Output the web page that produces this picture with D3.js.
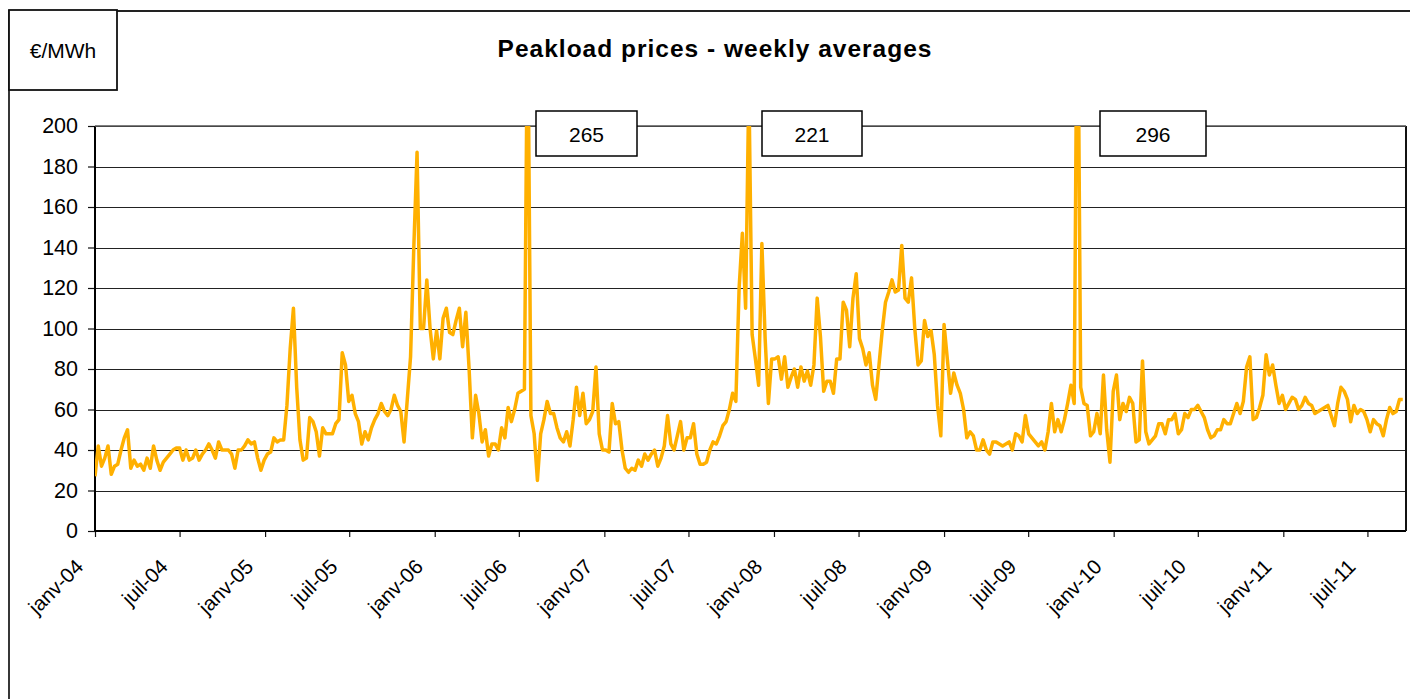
<!DOCTYPE html>
<html>
<head>
<meta charset="utf-8">
<script src="https://cdn.jsdelivr.net/npm/d3@7"></script>
<style>
body{margin:0;background:#fff;}
text{font-family:Arial,"Liberation Sans",sans-serif;fill:#000;}
</style>
</head>
<body>
<script>
// weekly peakload averages, first week of janv-04 onwards (EUR/MWh)
var firstWeek = new Date(2004, 0, 1);
var axisEnd = new Date(2011, 8, 22);
var prices = [
 27,42,32,36,42,28,32,33,40,46,
 50,31,35,32,33,30,36,31,42,35,
 30,34,36,38,40,41,41,35,40,35,
 36,40,35,38,40,43,40,36,44,40,
 40,40,38,31,40,40,42,45,43,44,
 36,30,35,38,39,46,44,45,45,62,
 90,110,71,45,35,36,56,54,49,37,
 51,48,48,48,53,55,88,82,64,67,
 58,54,43,49,45,51,55,58,63,59,
 57,60,67,62,59,44,65,86,140,187,
 100,100,124,100,85,99,85,105,110,98,
 97,104,110,91,108,80,46,67,58,44,
 50,37,43,43,40,51,46,61,54,60,
 68,69,70,265,57,48,25,48,55,64,
 58,58,51,46,44,49,42,55,71,57,
 68,53,55,59,81,48,40,40,39,63,
 53,54,40,31,29,31,30,35,32,38,
 35,38,40,32,36,42,57,43,40,47,
 54,40,46,46,53,38,33,33,34,40,
 44,43,47,52,54,60,68,64,120,147,
 110,221,97,85,72,142,95,63,85,85,
 86,75,86,71,76,80,71,81,74,79,
 72,82,115,96,69,74,74,68,85,85,
 113,109,91,115,127,95,90,82,88,72,
 65,82,99,113,118,124,118,119,141,115,
 113,125,100,82,84,104,96,99,87,62,
 47,102,85,68,78,72,68,60,46,49,
 47,40,40,45,40,38,44,44,43,42,
 43,44,40,48,47,44,57,48,46,44,
 42,44,40,49,63,49,55,49,55,63,
 72,63,296,71,63,62,47,49,58,48,
 77,50,34,69,77,55,63,59,66,63,
 44,45,84,49,43,45,47,53,53,48,
 55,55,58,48,50,58,56,60,60,62,
 59,56,50,46,47,50,50,55,53,53,
 58,63,58,64,81,86,55,56,61,67,
 87,77,82,72,63,67,60,63,66,65,
 60,62,66,63,62,58,59,60,61,62,
 57,52,63,71,69,65,54,62,58,60,
 59,55,49,55,53,52,47,55,61,58,
 59,65,65
];
var yTicks = [0,20,40,60,80,100,120,140,160,180,200];
var xTickLabels = ["janv-04","juil-04","janv-05","juil-05","janv-06","juil-06","janv-07","juil-07",
  "janv-08","juil-08","janv-09","juil-09","janv-10","juil-10","janv-11","juil-11"];
var xTickDates = [new Date(2004,0,1),new Date(2004,6,1),new Date(2005,0,1),new Date(2005,6,1),
  new Date(2006,0,1),new Date(2006,6,1),new Date(2007,0,1),new Date(2007,6,1),
  new Date(2008,0,1),new Date(2008,6,1),new Date(2009,0,1),new Date(2009,6,1),
  new Date(2010,0,1),new Date(2010,6,1),new Date(2011,0,1),new Date(2011,6,1)];
var yMax = 200;
var unitText = "€/MWh";
var titleText = "Peakload prices - weekly averages";
// label boxes for off-scale weeks were placed by hand, a bit right of each spike
var tagShift = [8, 13, 23];
var tagWidth = [101, 100, 106];

var data = prices.map(function(v,i){ return {date: d3.timeDay.offset(firstWeek, i*7), value: v}; });

var plotL = 95, plotR = 1406, plotT = 126, plotB = 531;

var svg = d3.select("body").append("svg").attr("width",1410).attr("height",699);

var x = d3.scaleTime().domain([firstWeek, axisEnd]).range([plotL, plotR]);
var y = d3.scaleLinear().domain([0, yMax]).range([plotB, plotT]);

// outer chart frame
svg.append("path")
  .attr("d","M9,699 L9,11 L1410,11")
  .attr("fill","none").attr("stroke","#222").attr("stroke-width",1.8);

// unit box
svg.append("rect").attr("x",9).attr("y",10).attr("width",108).attr("height",80)
  .attr("fill","#fff").attr("stroke","#111").attr("stroke-width",1.8);
svg.append("text").attr("x",63).attr("y",58).attr("text-anchor","middle")
  .style("font-size","21px").text(unitText);

svg.append("text").attr("x",715).attr("y",57).attr("text-anchor","middle")
  .style("font-size","24.5px").style("font-weight","bold").style("letter-spacing","1px")
  .text(titleText);

// gridlines
svg.append("g").selectAll("line").data(yTicks).enter().append("line")
  .attr("x1",plotL).attr("x2",plotR)
  .attr("y1",function(d){ return Math.round(y(d))+0.5; })
  .attr("y2",function(d){ return Math.round(y(d))+0.5; })
  .attr("stroke","#222").attr("stroke-width",1.1);

// y axis
var yAxis = svg.append("g").attr("transform","translate("+plotL+",0)")
  .call(d3.axisLeft(y).tickValues(yTicks).tickSize(7).tickPadding(10));
yAxis.select(".domain").remove();
yAxis.selectAll("line").attr("stroke","#111").attr("stroke-width",1.2);
yAxis.selectAll("text").style("font-size","21.5px").attr("fill","#000").style("font-family","Arial,'Liberation Sans',sans-serif");

// x axis
var xAxis = svg.append("g").attr("transform","translate(0,"+plotB+")")
  .call(d3.axisBottom(x).tickValues(xTickDates).tickSize(6).tickFormat(function(d,i){ return xTickLabels[i]; }));
xAxis.select(".domain").remove();
xAxis.selectAll("line").attr("stroke","#111").attr("stroke-width",1.2);
xAxis.selectAll("text")
  .attr("y",0).attr("dy",0)
  .attr("transform","translate(-11,37) rotate(-45)")
  .attr("text-anchor","end")
  .style("font-size","20.5px").attr("fill","#000").style("font-family","Arial,'Liberation Sans',sans-serif");

// plot frame
svg.append("line").attr("x1",plotL).attr("x2",plotL).attr("y1",plotT).attr("y2",plotB)
  .attr("stroke","#000").attr("stroke-width",2);
svg.append("line").attr("x1",plotL).attr("x2",plotR).attr("y1",plotB).attr("y2",plotB)
  .attr("stroke","#000").attr("stroke-width",2);
svg.append("line").attr("x1",plotR).attr("x2",plotR).attr("y1",plotT).attr("y2",plotB)
  .attr("stroke","#111").attr("stroke-width",2);
svg.append("line").attr("x1",plotL).attr("x2",plotR).attr("y1",plotT).attr("y2",plotT)
  .attr("stroke","#555").attr("stroke-width",1.5);

// price line, clipped to plot
svg.append("clipPath").attr("id","plotClip").append("rect")
  .attr("x",plotL).attr("y",plotT).attr("width",plotR-plotL).attr("height",plotB-plotT);

var line = d3.line().x(function(d){ return x(d.date); }).y(function(d){ return y(d.value); });
svg.append("path").datum(data)
  .attr("clip-path","url(#plotClip)")
  .attr("d",line)
  .attr("fill","none").attr("stroke","#FFB000").attr("stroke-width",3.5)
  .attr("stroke-linejoin","round");

// off-scale spikes labelled
var spikes = data.filter(function(d){ return d.value > yMax; });
var tags = svg.append("g").selectAll("g").data(spikes).enter().append("g")
  .attr("transform",function(d,i){ return "translate("+Math.round(x(d.date)+tagShift[i])+",111)"; });
tags.append("rect").attr("width",function(d,i){ return tagWidth[i]; }).attr("height",45)
  .attr("fill","#fff").attr("stroke","#000").attr("stroke-width",1.5);
tags.append("text").attr("x",function(d,i){ return tagWidth[i]/2; }).attr("y",31).attr("text-anchor","middle")
  .style("font-size","21px").text(function(d){ return d.value; });
</script>
</body>
</html>
